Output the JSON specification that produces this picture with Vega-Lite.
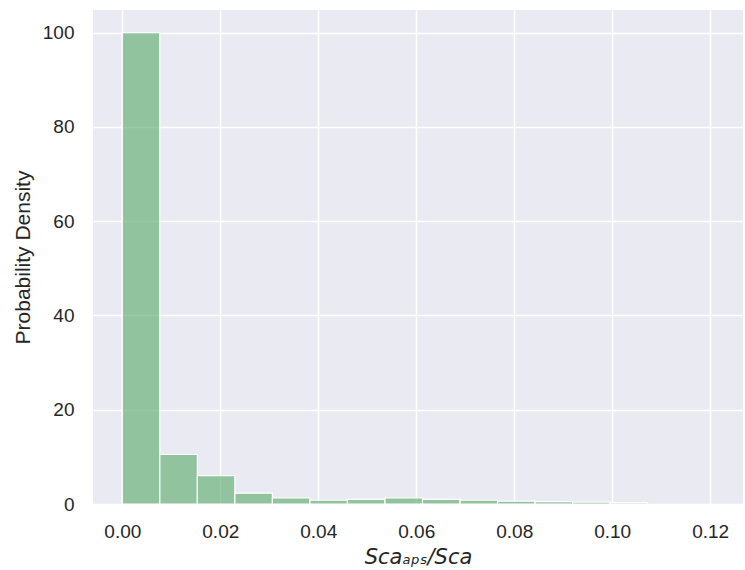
{
  "$schema": "https://vega.github.io/schema/vega-lite/v6.json",
  "autosize": {"type": "none"},
  "width": 650,
  "height": 494,
  "padding": {"left": 93, "top": 10, "right": 2, "bottom": 66},
  "background": "white",
  "config": {
    "view": {"fill": "#eaeaf2", "stroke": null},
    "axis": {
      "domain": false,
      "ticks": false,
      "gridColor": "white",
      "gridWidth": 1.5,
      "gridOpacity": 1,
      "labelFont": "Liberation Sans",
      "labelFontSize": 19,
      "labelColor": "#262626",
      "titleFont": "Liberation Sans",
      "titleColor": "#262626",
      "titleFontWeight": "normal",
      "titleFontSize": 21
    }
  },
  "data": {
    "values": [
      {"lo": 0.0, "hi": 0.00766, "density": 100.0},
      {"lo": 0.00766, "hi": 0.01532, "density": 10.5},
      {"lo": 0.01532, "hi": 0.02298, "density": 6.0},
      {"lo": 0.02298, "hi": 0.03064, "density": 2.3},
      {"lo": 0.03064, "hi": 0.0383, "density": 1.3},
      {"lo": 0.0383, "hi": 0.04596, "density": 0.8},
      {"lo": 0.04596, "hi": 0.05362, "density": 1.0},
      {"lo": 0.05362, "hi": 0.06128, "density": 1.3},
      {"lo": 0.06128, "hi": 0.06894, "density": 1.0},
      {"lo": 0.06894, "hi": 0.0766, "density": 0.8},
      {"lo": 0.0766, "hi": 0.08426, "density": 0.6},
      {"lo": 0.08426, "hi": 0.09192, "density": 0.5},
      {"lo": 0.09192, "hi": 0.09958, "density": 0.4},
      {"lo": 0.09958, "hi": 0.10724, "density": 0.3}
    ]
  },
  "mark": {"type": "rect", "fill": "#55a868", "fillOpacity": 0.6, "stroke": "white", "strokeWidth": 1.2, "clip": true},
  "encoding": {
    "x": {
      "field": "lo", "type": "quantitative",
      "scale": {"domain": [-0.00598, 0.1267], "nice": false, "zero": false},
      "axis": {"values": [0, 0.02, 0.04, 0.06, 0.08, 0.1, 0.12], "format": ".2f", "labelPadding": 18, "titlePadding": 5, "titleFontStyle": "italic", "titleFont": "DejaVu Sans", "titleFontSize": 21},
      "title": "Scaₐₚₛ/Sca"
    },
    "x2": {"field": "hi"},
    "y": {
      "field": "density", "type": "quantitative",
      "scale": {"domain": [0, 104.8], "nice": false},
      "axis": {"values": [0, 20, 40, 60, 80, 100], "labelPadding": 19, "titlePadding": 9},
      "title": "Probability Density"
    },
    "y2": {"datum": 0}
  }
}
